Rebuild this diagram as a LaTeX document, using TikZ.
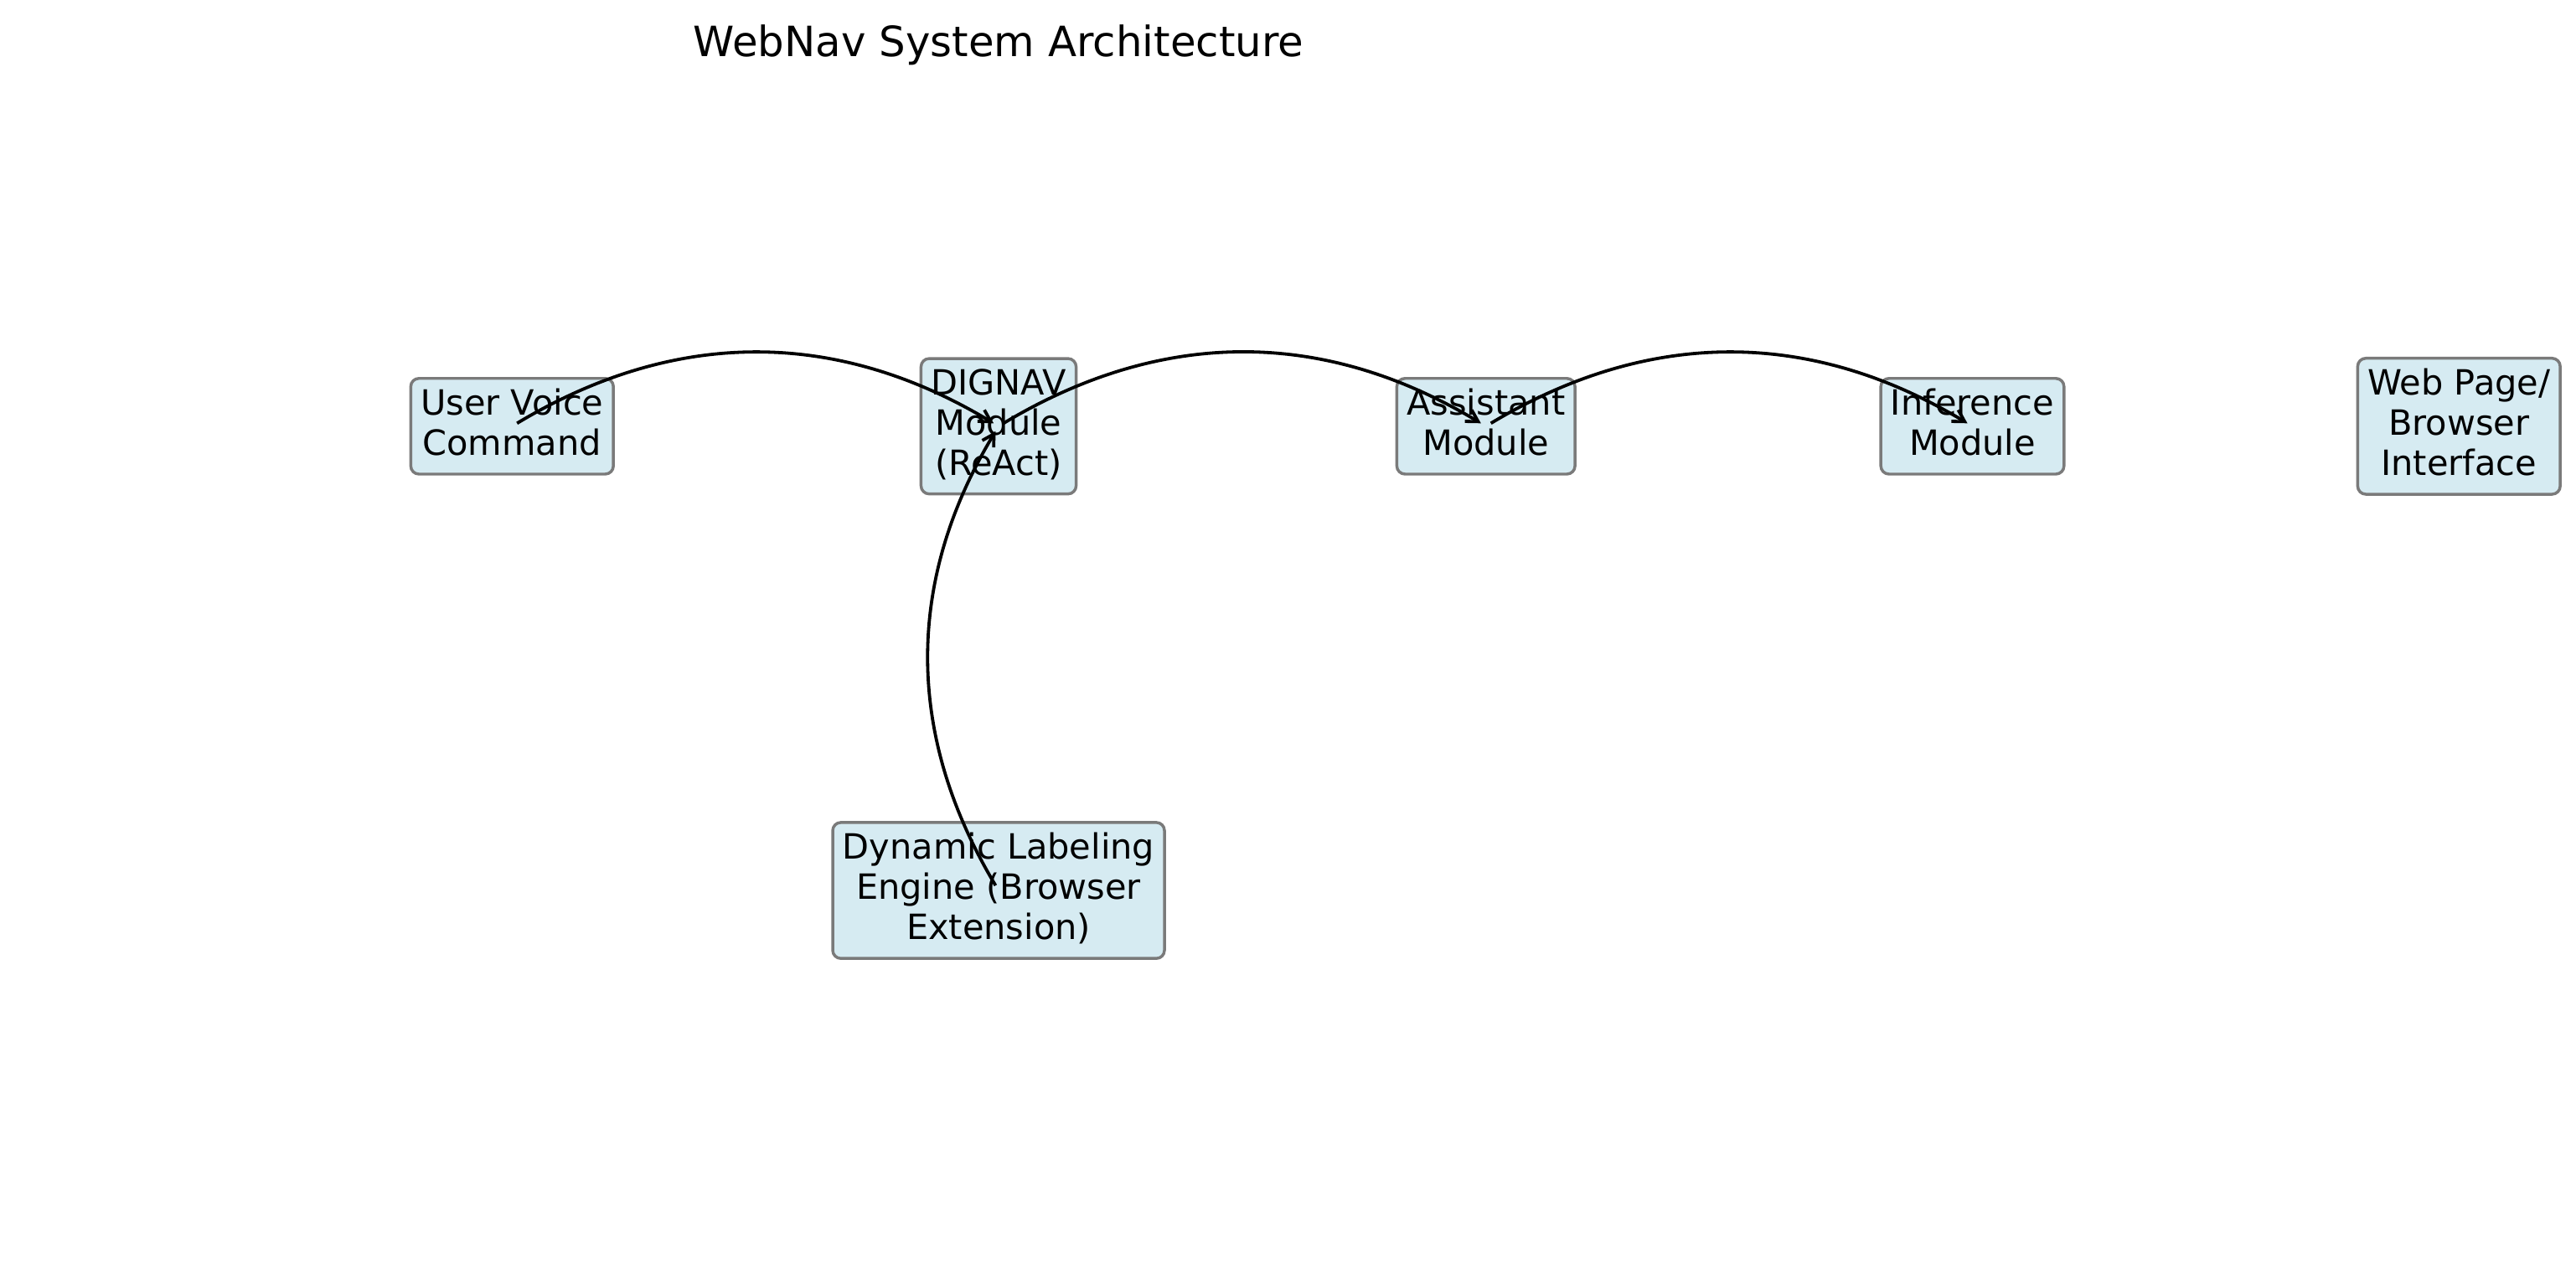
\documentclass[tikz,border=0pt]{standalone}
\usepackage{fontspec}
\setmainfont{DejaVu Sans}
\usepackage{xcolor}
\usetikzlibrary{arrows.meta}
\definecolor{boxfill}{RGB}{214,235,242}
\definecolor{boxedge}{RGB}{122,122,122}

\begin{document}
\begin{tikzpicture}[
  module/.style={draw=boxedge, fill=boxfill, line width=1pt, rounded corners=2.8pt,
    align=center, font=\fontsize{12}{13.9}\selectfont, inner xsep=3.4pt, inner ysep=3.5pt,
    execute at begin node={\rule{0pt}{9.4pt}},
    execute at end node={\rule[-3pt]{0pt}{3pt}}},
  flow/.style={-{Straight Barb[length=4pt,width=4.6pt]}, line width=1.1pt,
    shorten <=2pt, shorten >=2pt}
]
\useasboundingbox (0,0) rectangle (31.24,15.33);
\node[anchor=base, font=\fontsize{14.4}{17}\selectfont] (title) at (12.11,14.64) {WebNav System Architecture};
\node[module] (voice) at (6.21,10.16) {User Voice\\Command};
\node[module] (dignav) at (12.11,10.16) {DIGNAV\\Module\\(ReAct)};
\node[module] (assist) at (18.02,10.16) {Assistant\\Module};
\node[module] (infer) at (23.92,10.16) {Inference\\Module};
\node[module] (webpage) at (29.82,10.16) {Web Page/\\Browser\\Interface};
\node[module] (labeling) at (12.11,4.53) {Dynamic Labeling\\Engine (Browser\\Extension)};
\draw[flow] (voice.center) to[bend left=31] (dignav.center);
\draw[flow] (dignav.center) to[bend left=31] (assist.center);
\draw[flow] (assist.center) to[bend left=31] (infer.center);
\draw[flow] (labeling.center) to[bend left=31] (dignav.center);
\end{tikzpicture}
\end{document}
